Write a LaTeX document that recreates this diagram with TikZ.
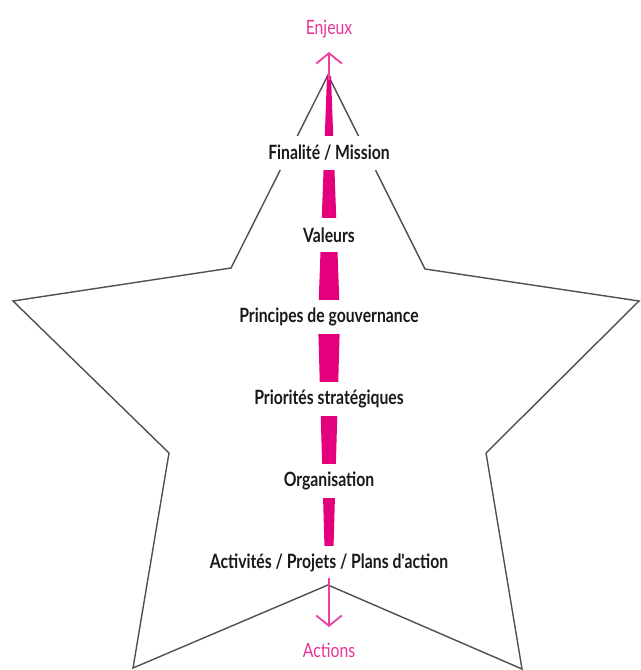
\documentclass[tikz,border=0pt]{standalone}
\usepackage{fontspec}
\usepackage{xcolor}
\usepackage{tikz}
\usetikzlibrary{arrows.meta}
\newfontfamily\lblfont{Lato}[FakeStretch=0.8]
\definecolor{pinkcolor}{RGB}{228,0,124}
\definecolor{starcolor}{RGB}{80,80,80}
\definecolor{txtcolor}{RGB}{25,25,25}

\begin{document}
\begin{tikzpicture}[
  x=0.025cm, y=-0.025cm,
  lbl/.style={fill=white, inner xsep=3pt, minimum height=0.83cm, text=txtcolor, font=\lblfont\bfseries\fontsize{14}{16}\selectfont},
  endlbl/.style={text=pinkcolor!80, inner sep=1pt, font=\lblfont\fontsize{14}{16}\selectfont},
  flow/.style={pinkcolor!75, line width=1pt, -{Straight Barb[length=2.6mm, width=6.4mm, line width=1.3pt]}},
  starline/.style={draw=starcolor, line width=1pt, line join=miter},
]
\useasboundingbox (0,0) rectangle (640,670);

% star
\draw[starline] (328,75) -- (425,269) -- (639,301) -- (486,453) -- (522,669)
  -- (328,585) -- (133,668) -- (169,453) -- (13,301) -- (231,268) -- cycle;

% pink spindle
\fill[pinkcolor] (327,76) -- (331,76) -- (340,320) -- (333.5,548) -- (324.5,548) -- (318,320) -- cycle;

\node[lbl] (mission) at (329,153) {Finalité / Mission};
\node[lbl] (valeurs) at (329,235) {Valeurs};
\node[lbl] (principes) at (329,317) {Principes de gouvernance};
\node[lbl] (priorites) at (329,399) {Priorités stratégiques};
\node[lbl] (orga) at (329,481) {Organisation};
\node[lbl] (activites) at (329,563) {Activités / Projets / Plans d'action};

\node[endlbl] (enjeux) at (329,29) {Enjeux};
\node[endlbl] (actions) at (329,650) {Actions};

\coordinate (bartop) at (329,80);
\coordinate (uptip) at (329,52);
\coordinate (barbot) at (329,578);
\coordinate (downtip) at (329,627);

\draw[flow] (bartop) -- (uptip);
\draw[flow] (barbot) -- (downtip);
\end{tikzpicture}
\end{document}
